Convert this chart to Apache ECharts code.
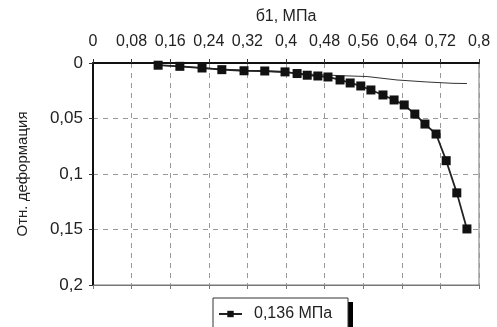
<!DOCTYPE html>
<html><head><meta charset="utf-8">
<script src="https://cdn.jsdelivr.net/npm/echarts@6/dist/echarts.min.js"></script>
<style>html,body{margin:0;padding:0;background:#fff}#c{width:497px;height:327px}</style>
</head><body><div id="c"></div>
<script>
const xTicks = [0,0.08,0.16,0.24,0.32,0.4,0.48,0.56,0.64,0.72,0.8];
const yTicks = [0,0.05,0.1,0.15,0.2];
const seriesName = '0,136 МПа';
const stressX = [0.135,0.180,0.226,0.267,0.313,0.356,0.398,0.423,0.444,0.466,0.487,0.512,0.533,0.555,0.576,0.601,0.624,0.645,0.667,0.688,0.711,0.732,0.754,0.775];
const strainY = [0.002,0.003,0.0045,0.006,0.007,0.0072,0.008,0.0095,0.011,0.0117,0.0126,0.0153,0.018,0.0207,0.0243,0.0288,0.0333,0.0378,0.046,0.055,0.064,0.088,0.117,0.1495];
const theoX = [0.135,0.267,0.398,0.466,0.512,0.568,0.630,0.692,0.746,0.775];
const theoY = [0.002,0.0055,0.0085,0.0105,0.0114,0.0122,0.0153,0.0171,0.0183,0.0185];

const fmt = v => String(+v.toFixed(2)).replace('.', ',');
const font = 'Liberation Sans, Arial, sans-serif';
const chart = echarts.init(document.getElementById('c'));
chart.setOption({
  animation:false,
  backgroundColor:'#fff',
  grid:{left:93,top:63,right:18,bottom:42,show:true,borderColor:'#777',borderWidth:1},
  graphic:[
    {type:'rect',z:0,shape:{x:217,y:302,width:136,height:40},style:{fill:'#000'}},
    {type:'rect',z:1,shape:{x:213,y:298,width:135,height:40},style:{fill:'#fff',stroke:'#333',lineWidth:1}}
  ],
  xAxis:[{
    type:'value',position:'top',min:0,max:0.8,interval:0.08,
    name:'б1, МПа',nameLocation:'middle',nameGap:38,
    nameTextStyle:{fontFamily:font,fontSize:16,color:'#222'},
    axisLine:{lineStyle:{color:'#111',width:2}},
    axisTick:{show:true,length:4,lineStyle:{color:'#333'}},
    axisLabel:{fontFamily:font,fontSize:16,color:'#222',margin:13,formatter:fmt,showMinLabel:true,showMaxLabel:true,hideOverlap:false},
    splitLine:{show:true,lineStyle:{type:[5,5],color:'#999',width:1}}
  },{
    type:'value',position:'bottom',min:0,max:0.8,interval:0.08,
    axisLine:{lineStyle:{color:'#777',width:1}},
    axisTick:{show:true,length:4,lineStyle:{color:'#777'}},
    axisLabel:{show:false},splitLine:{show:false}
  }],
  yAxis:{
    type:'value',inverse:true,min:0,max:0.2,interval:0.05,
    name:'Отн. деформация',nameLocation:'middle',nameGap:63,nameRotate:90,
    nameTextStyle:{fontFamily:font,fontSize:15,color:'#222'},
    axisLine:{show:true,lineStyle:{color:'#111',width:2}},
    axisTick:{show:true,length:4,lineStyle:{color:'#333'}},
    axisLabel:{fontFamily:font,fontSize:17,color:'#222',margin:10,formatter:fmt},
    splitLine:{show:true,lineStyle:{type:[5,5],color:'#999',width:1}}
  },
  legend:{
    left:218,top:306,itemWidth:23,itemHeight:8,padding:0,z:10,
    textStyle:{fontFamily:font,fontSize:16,color:'#222',padding:[0,0,0,7]},
    data:[seriesName]
  },
  series:[{
    name:'theory',type:'line',xAxisIndex:0,
    data:theoX.map((x,i)=>[x,theoY[i]]),
    symbol:'none',lineStyle:{color:'#333',width:1},z:2
  },{
    name:seriesName,type:'line',xAxisIndex:0,
    data:stressX.map((x,i)=>[x,strainY[i]]),
    symbol:'rect',symbolSize:9,
    itemStyle:{color:'#111'},lineStyle:{color:'#222',width:1.8},z:3
  }]
});
</script></body></html>
